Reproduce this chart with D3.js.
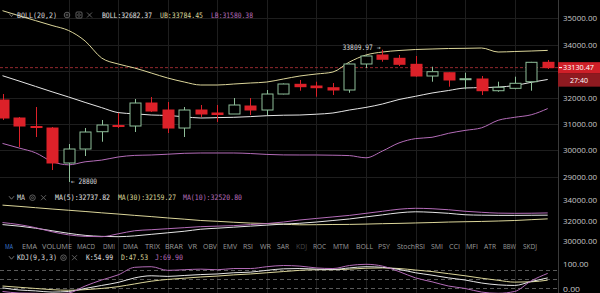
<!DOCTYPE html>
<html><head><meta charset="utf-8">
<script src="https://cdn.jsdelivr.net/npm/d3@7"></script>
<style>html,body{margin:0;padding:0;background:#000;overflow:hidden}</style>
</head><body><svg id="c" width="600" height="293"></svg>
<script>
// ---------- DATA ----------
const idx = d3.range(34);
const opens  = [31905,31223,30901,30844,29519,30049,30704,30939,30920,31791,31526,30844,31526,31413,31375,31678,31526,32132,32500,32435,32371,32284,33269,33610,33485,33257,32814,32939,32689,32701,32257,32348,32598,33333];
const closes = [31223,30920,30863,29519,30049,30693,30958,30901,31791,31488,30844,31526,31375,31356,31716,31526,32132,32511,32409,32371,32284,33269,33572,33447,33257,32814,32977,32663,32712,32257,32386,32538,33333,33130.47];
const highs  = [32132,31261,31640,30882,30238,30845,31148,31413,31943,32019,31829,31640,31716,31716,31981,31981,32284,32530,32663,32598,32549,33290,33600,33809.97,33610,33572,33166,32960,32939,32814,32598,32788,33350,33420];
const lows   = [31150,30125,30503,29253,28800,29784,30325,30844,30693,31451,30655,30503,31261,31072,31375,31337,31337,32120,32257,32030,32094,32181,33117,33356,33193,32788,32598,32409,32311,32094,32219,32311,32257,33080];

const bollUp  = [35288,35098,34913,34727,34538,34140,33496,33269,33117,32928,32738,32587,32473,32473,32511,32549,32587,32701,32814,32890,32966,33344,33610,33723,33780,33818,33837,33856,33863,33875,33723,33742,33761,33784.45];
const bollMid = [32825,32625,32420,32216,32019,31814,31617,31428,31382,31337,31318,31269,31223,31238,31250,31276,31310,31329,31337,31367,31413,31526,31625,31754,31924,32045,32170,32265,32360,32375,32394,32454,32575,32682.37];
const bollLow = [30261,30087,29905,29575,29450,29564,29628,29746,29807,29822,29852,29886,29898,29898,29898,29878,29844,29825,29822,29822,29814,29799,29716,29973,30280,30443,30492,30644,30754,30852,31136,31250,31345,31580.38];

const ma5  = [31800,31600,31300,30900,30600,30450,30420,30700,31000,31100,31200,31300,31400,31450,31500,31600,31700,31850,32050,32200,32350,32500,32700,32900,33100,33190,33150,33050,32900,32800,32720,32700,32710,32737.82];
const ma10 = [31600,31450,31250,31000,30750,30550,30450,30420,30500,30650,30800,30950,31150,31250,31350,31450,31550,31650,31730,31850,32000,32150,32350,32550,32750,32850,32800,32700,32560,32520,32500,32500,32510,32520.80];
const ma30 = [33500,33380,33250,33120,33000,32880,32750,32630,32500,32380,32250,32130,32000,31920,31830,31750,31700,31640,31580,31590,31610,31620,31650,31690,31720,31760,31800,31850,31880,31910,31950,32000,32080,32159.27];

const kdjK = [22,15,12,8,10,20,30,40,55,62,60,63,66,68,72,74,80,85,86,84,83,88,92,90,83,72,64,55,48,38,32,30,43,54.99];
const kdjD = [28,24,20,16,14,16,20,26,35,44,50,54,58,61,65,68,72,76,80,82,82,84,87,88,86,81,76,69,62,54,47,41,42,47.53];
const kdjJ = [10,5,4,2,5,28,48,65,90,92,80,82,84,82,86,86,92,96,94,88,86,96,100,94,76,55,42,28,20,8,4,10,45,69.90];

const priceTicks = [29000,30000,31000,32000,33000,34000,35000];
const maTicks = [30000,32000,34000];
const kdjTicks = [0,100];
const kdjLevels = [20,50,80];
const lastPrice = 33130.47;
const countdown = "27:40";
const tabs = ["MA","EMA","VOLUME","MACD","DMI","DMA","TRIX","BRAR","VR","OBV","EMV","RSI","WR","SAR","KDJ","ROC","MTM","BOLL","PSY","StochRSI","SMI","CCI","MFI","ATR","BBW","SKDJ"];

// ---------- LAYOUT ----------
const svg = d3.select("#c");
const W = 600, H = 293, AX = 558;
const C = {grid:"#1e1e1e", red:"#dc2129", green:"#8fbf9a", white:"#e6e6e6", khaki:"#dcd69a", pink:"#b46cb8", axis:"#c8c8c8"};
const mono = "'DejaVu Sans Mono', monospace", sans = "'Open Sans', 'Noto Sans', sans-serif";

svg.append("rect").attr("width",W).attr("height",H).attr("fill","#000");

const x = d3.scalePoint().domain(idx).range([2.5, 547.7]);
const y = d3.scaleLinear().domain([29000,35000]).range([176.7,18.3]);
const yMA = d3.scaleLinear().domain([30000,34000]).range([241,200]);
const yK = d3.scaleLinear().domain([0,100]).range([294.5,264.3]);

// grid
const g = svg.append("g");
g.selectAll(".hg").data(priceTicks).join("line")
  .attr("x1",0).attr("x2",AX).attr("y1",d=>Math.round(y(d))+0.5).attr("y2",d=>Math.round(y(d))+0.5)
  .attr("stroke",C.grid);
const vIdx = idx.filter(i => i>=4 && (i-4)%3===0);
g.selectAll(".vg").data(vIdx).join("line")
  .attr("x1",d=>Math.round(x(d))+0.5).attr("x2",d=>Math.round(x(d))+0.5).attr("y1",0).attr("y2",H)
  .attr("stroke",C.grid);
g.selectAll(".kl").data(kdjLevels).join("line")
  .attr("x1",0).attr("x2",AX).attr("y1",d=>Math.round(yK(d))+0.5).attr("y2",d=>Math.round(yK(d))+0.5)
  .attr("stroke","#5a5a5a").attr("stroke-dasharray","4,3");
svg.append("line").attr("x1",AX+0.5).attr("x2",AX+0.5).attr("y1",0).attr("y2",H).attr("stroke","#3a3a3a");

// current price dashed line
svg.append("line").attr("x1",0).attr("x2",AX).attr("y1",y(lastPrice)).attr("y2",y(lastPrice))
  .attr("stroke","#b8323a").attr("stroke-dasharray","3,2").attr("stroke-width",0.8);

// bollinger
const line = (arr, ys) => d3.line().x((d,i)=>x(i)).y(d=>ys(d)).curve(d3.curveMonotoneX)(arr);
svg.append("path").attr("d",line(bollUp,y)).attr("fill","none").attr("stroke",C.khaki).attr("stroke-width",1);
svg.append("path").attr("d",line(bollMid,y)).attr("fill","none").attr("stroke",C.white).attr("stroke-width",1);
svg.append("path").attr("d",line(bollLow,y)).attr("fill","none").attr("stroke",C.pink).attr("stroke-width",1);

// candles
const bw = 11;
const cg = svg.append("g");
idx.forEach(i=>{
  const up = closes[i] >= opens[i];
  const col = up ? C.green : C.red;
  const cx = Math.round(x(i)) + 0.5;
  const top = y(Math.max(opens[i],closes[i])), bot = y(Math.min(opens[i],closes[i]));
  cg.append("line").attr("x1",cx).attr("x2",cx).attr("y1",y(highs[i])).attr("y2",top).attr("stroke",col);
  cg.append("line").attr("x1",cx).attr("x2",cx).attr("y1",bot).attr("y2",y(lows[i])).attr("stroke",col);
  const h = Math.max(1, bot-top);
  if (up) {
    cg.append("rect").attr("x",cx-bw/2).attr("y",top).attr("width",bw).attr("height",h)
      .attr("fill","#000").attr("stroke",col).attr("stroke-width",1);
  } else {
    cg.append("rect").attr("x",cx-bw/2-0.5).attr("y",top-0.5).attr("width",bw+1).attr("height",h+1)
      .attr("fill",col);
  }
});

function txt(s, x0, yc, w, color, font, size, anchor){
  const t = svg.append("text").attr("x",x0).attr("y",yc).attr("dy","0.35em")
    .attr("fill",color).attr("font-family",font).attr("font-size",size).text(s);
  if (anchor) t.attr("text-anchor",anchor);
  if (w) t.attr("textLength",w).attr("lengthAdjust","spacingAndGlyphs");
  return t;
}

// high / low annotations
const hiI = highs.indexOf(d3.max(highs)), loI = lows.indexOf(d3.min(lows));
txt(d3.format(".2f")(highs[hiI]) + " →", x(hiI)-40, y(highs[hiI])-2, 38, "#d8d8d8", mono, 7.5);
txt("← " + d3.format("d")(lows[loI]), x(loI)+2.5, y(lows[loI])-0.5, 26, "#d8d8d8", mono, 7.5);

// MA panel
svg.append("path").attr("d",line(ma30,yMA)).attr("fill","none").attr("stroke",C.khaki).attr("stroke-width",1);
svg.append("path").attr("d",line(ma10,yMA)).attr("fill","none").attr("stroke",C.white).attr("stroke-width",1);
svg.append("path").attr("d",line(ma5,yMA)).attr("fill","none").attr("stroke",C.pink).attr("stroke-width",1);

// KDJ panel
svg.append("path").attr("d",line(kdjD,yK)).attr("fill","none").attr("stroke",C.khaki).attr("stroke-width",1);
svg.append("path").attr("d",line(kdjK,yK)).attr("fill","none").attr("stroke",C.white).attr("stroke-width",1);
svg.append("path").attr("d",line(kdjJ,yK)).attr("fill","none").attr("stroke",C.pink).attr("stroke-width",1);

// axes (labels hidden behind the current-price tag are skipped)
const fmt = d3.format(".2f");
const py = y(lastPrice);
function axis(scale, ticks){
  const a = svg.append("g").attr("transform",`translate(${AX},0)`)
    .call(d3.axisRight(scale).tickValues(ticks).tickFormat(fmt).tickSize(0).tickPadding(5));
  a.select(".domain").remove();
  a.selectAll("text").attr("fill",C.axis).attr("font-family",sans).attr("font-size",8)
    .attr("textLength",d=>fmt(d).length*4.25).attr("lengthAdjust","spacingAndGlyphs");
  return a;
}
axis(y, priceTicks.filter(d => Math.abs(y(d)-py) > 12));
axis(yMA, maTicks);
const ka = axis(yK, kdjTicks);
ka.selectAll(".tick").filter(d=>d===0).attr("transform",`translate(0,${yK(0)-5})`);

// price label
svg.append("rect").attr("x",AX).attr("y",py-5.5).attr("width",W-AX).attr("height",11.5).attr("fill","#cf1f28");
svg.append("rect").attr("x",AX).attr("y",py+6).attr("width",W-AX).attr("height",13).attr("fill","#8e1a20");
svg.append("line").attr("x1",AX+1).attr("x2",AX+4).attr("y1",py).attr("y2",py).attr("stroke","#fff");
txt(fmt(lastPrice), 563, py, 31, "#fff", sans, 7.5);
txt(countdown, 579, py+13, 18, "#fff", sans, 7.5, "middle");

// legend icons
function icons(yc, xs, withEye){
  svg.append("path").attr("d",`M9,${yc-1.5} L11.5,${yc+1.5} L14,${yc-1.5}`).attr("fill","none").attr("stroke","#8a8a8a").attr("stroke-width",0.8);
  const gx = xs[0];
  svg.append("circle").attr("cx",gx).attr("cy",yc).attr("r",2.8).attr("fill","none").attr("stroke","#6a6a6a").attr("stroke-width",0.9);
  svg.append("circle").attr("cx",gx).attr("cy",yc).attr("r",1).attr("fill","none").attr("stroke","#6a6a6a").attr("stroke-width",0.8);
  let k = 1;
  if (withEye){
    const ex = xs[1];
    svg.append("rect").attr("x",ex-3).attr("y",yc-3).attr("width",6).attr("height",6).attr("rx",1).attr("fill","none").attr("stroke","#6a6a6a").attr("stroke-width",0.9);
    svg.append("circle").attr("cx",ex).attr("cy",yc).attr("r",1.3).attr("fill","none").attr("stroke","#6a6a6a").attr("stroke-width",0.8);
    k = 2;
  }
  const xx = xs[k];
  svg.append("path").attr("d",`M${xx-2.5},${yc-2.5} L${xx+2.5},${yc+2.5} M${xx+2.5},${yc-2.5} L${xx-2.5},${yc+2.5}`).attr("stroke","#6a6a6a").attr("stroke-width",0.9);
}

icons(15, [67,79,89.5], true);
txt("BOLL(20,2)", 17, 15, 40, "#d8d8d8", mono, 7.5);
txt("BOLL:" + fmt(bollMid[33]), 102, 15, 50, "#e0e0e0", mono, 7.5);
txt("UB:" + fmt(bollUp[33]), 160, 15, 43, C.khaki, mono, 7.5);
txt("LB:" + fmt(bollLow[33]), 211, 15, 42, C.pink, mono, 7.5);

icons(197.7, [32.5,43.5], false);
txt("MA", 17, 197.7, 8, "#d8d8d8", mono, 7.5);
txt("MA(5):" + fmt(ma5[33]), 55, 197.7, 55, "#e0e0e0", mono, 7.5);
txt("MA(30):" + fmt(ma30[33]), 118, 197.7, 58, C.khaki, mono, 7.5);
txt("MA(10):" + fmt(ma10[33]), 183, 197.7, 59, C.pink, mono, 7.5);

icons(257.7, [63.5,74.5], false);
txt("KDJ(9,3,3)", 17, 257.7, 40, "#d8d8d8", mono, 7.5);
txt("K:" + fmt(kdjK[33]), 86, 257.7, 27, "#e0e0e0", mono, 7.5);
txt("D:" + fmt(kdjD[33]), 121, 257.7, 27, C.khaki, mono, 7.5);
txt("J:" + fmt(kdjJ[33]), 155, 257.7, 28, C.pink, mono, 7.5);

const tabX = [[5,8],[22,15],[42,30],[77,18],[103,12],[123,15],[145,15],[165,18],[188,9],[203,14],[223,14],[243,10],[260,11],[277,12],[296,11],[313,13],[333,16],[356,17],[378,12],[397,28],[431,12],[449,11],[466,12],[484,12],[503,13],[523,14]];
tabs.forEach((t,i)=>{
  const col = i===0 ? "#3f7fd8" : (t==="KDJ" ? "#474747" : "#9a9a9a");
  txt(t, tabX[i][0], 246, tabX[i][1], col, sans, 7.5);
});
</script></body></html>
